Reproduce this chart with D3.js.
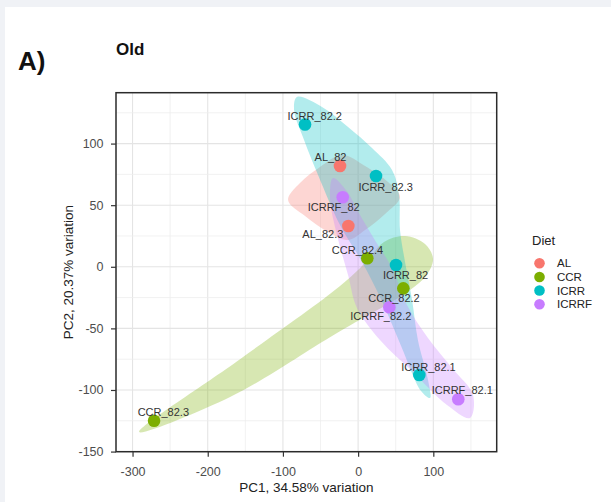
<!DOCTYPE html>
<html><head><meta charset="utf-8">
<script src="https://cdn.jsdelivr.net/npm/d3@7"></script>
<style>
html,body{margin:0;padding:0;background:#f0f2f6;}
svg{display:block;font-family:"Liberation Sans",Arial,Helvetica,sans-serif;}
</style></head><body>
<svg id="chart" width="611" height="502"></svg>
<script>
// ---------- data ----------
const diets = ["AL", "CCR", "ICRR", "ICRRF"];
const dietColors = ["#F8766D", "#7CAE00", "#00BFC4", "#C77CFF"];
const sampleNames = ["AL_82", "AL_82.3", "CCR_82.4", "CCR_82.2", "CCR_82.3",
  "ICRR_82.2", "ICRR_82.3", "ICRR_82", "ICRR_82.1", "ICRRF_82", "ICRRF_82.2", "ICRRF_82.1"];
const sampleDiet = ["AL", "AL", "CCR", "CCR", "CCR", "ICRR", "ICRR", "ICRR", "ICRR", "ICRRF", "ICRRF", "ICRRF"];
const pc1 = [-24.1, -13.0, 12.2, 60.1, -271.4, -70.6, 23.8, 50.4, 81.4, -20.5, 41.5, 133.2];
const pc2 = [81.8, 33.1, 6.9, -17.5, -125.0, 115.5, 73.7, 1.5, -87.8, 56.4, -32.9, -107.5];
const xTicks = [-300, -200, -100, 0, 100];
const yTicks = [-150, -100, -50, 0, 50, 100];
// encircle outlines per diet (PC1, PC2 units)
const envAL = [[-93.2,54.2],[-77.3,68.0],[-50.7,81.0],[-21.4,90.7],[9.2,81.8],[39.8,68.8],[55.7,56.7],[35.8,42.9],[9.2,29.9],[-13.4,21.8],[-40.0,28.2],[-70.6,41.2]];
const envCCR = [[-291.2,-134.1],[-157.1,-75.0],[-24.1,-15.6],[10.5,3.9],[34.4,20.1],[62.4,24.9],[89.0,18.4],[99.6,6.3],[90.3,-7.5],[69.0,-18.8],[42.4,-29.4],[6.5,-41.6],[-37.4,-57.1],[-170.3,-105.7]];
const envICRR = [[-81.3,137.8],[-48.0,129.7],[-13.4,113.5],[18.5,96.4],[45.1,78.5],[54.4,58.3],[55.7,29.9],[62.4,3.9],[71.8,-27.0],[79.5,-59.4],[93.0,-92.0],[95.6,-106.5],[84.0,-101.0],[57.0,-64.0],[31.0,-27.0],[5.2,3.9],[-24.1,33.9],[-53.3,74.5],[-71.9,102.9],[-85.2,127.2]];
const envICRRF = [[-33.4,72.1],[-16.1,62.3],[2.5,42.0],[23.8,20.1],[45.1,-1.0],[65.0,-31.0],[92.9,-57.8],[124.9,-82.2],[152.8,-104.1],[148.8,-122.7],[118.2,-112.2],[73.0,-85.4],[29.1,-59.4],[-1.5,-33.4],[-13.4,-6.7],[-28.1,25.8],[-37.4,55.8]];
const envelopes = [envAL, envCCR, envICRR, envICRRF];

// label placement (pixel nudges from each point, like ggrepel)
const labelNudge = [[-9.5,-9],[-25.5,8],[-9.8,-8.3],[-9.3,10],[9.3,-8.3],[9.7,-8],[9.6,10.7],[9.5,10],[9.2,-7.7],[-9,9.4],[-8.5,8.7],[4,-9.3]];

// ---------- layout ----------
const svg = d3.select("#chart");
svg.append("rect").attr("x", 5).attr("y", 7).attr("width", 606).attr("height", 495).attr("fill", "#ffffff");

const L = 116, R = 496.7, T = 92.7, B = 451.7;
const x = d3.scaleLinear().domain([-322, 184.3]).range([L, R]);
const y = d3.scaleLinear().domain([-150.1, 141.3]).range([B, T]);
const color = d3.scaleOrdinal().domain(diets).range(dietColors);

// grid
const g = svg.append("g");
const xMinor = d3.range(-300, 151, 50);
const yMinor = d3.range(-150, 126, 25);
g.selectAll(".gx").data(xMinor).join("line")
  .attr("x1", d => x(d)).attr("x2", d => x(d)).attr("y1", T).attr("y2", B)
  .attr("stroke", d => d % 100 === 0 ? "#e4e4e4" : "#eeeeee")
  .attr("stroke-width", d => d % 100 === 0 ? 1.1 : 0.8);
g.selectAll(".gy").data(yMinor).join("line")
  .attr("y1", d => y(d)).attr("y2", d => y(d)).attr("x1", L).attr("x2", R)
  .attr("stroke", d => d % 50 === 0 ? "#e4e4e4" : "#eeeeee")
  .attr("stroke-width", d => d % 50 === 0 ? 1.1 : 0.8);

// envelopes
svg.append("clipPath").attr("id", "pclip").append("rect")
  .attr("x", L).attr("y", T).attr("width", R - L).attr("height", B - T);
const line = d3.line().x(d => x(d[0])).y(d => y(d[1])).curve(d3.curveCatmullRomClosed.alpha(0.5));
svg.append("g").attr("clip-path", "url(#pclip)")
  .selectAll("path").data(envelopes).join("path")
  .attr("d", d => line(d))
  .attr("fill", (d, i) => dietColors[i])
  .attr("fill-opacity", 0.3)
  .attr("stroke", "none");

// points
const idx = d3.range(sampleNames.length);
svg.append("g").selectAll("circle").data(idx).join("circle")
  .attr("cx", i => x(pc1[i])).attr("cy", i => y(pc2[i])).attr("r", 6.3)
  .attr("fill", i => color(sampleDiet[i]));

// labels
svg.append("g").selectAll("text").data(idx).join("text")
  .attr("x", i => x(pc1[i]) + labelNudge[i][0])
  .attr("y", i => y(pc2[i]) + labelNudge[i][1])
  .attr("dy", "0.36em")
  .attr("text-anchor", "middle")
  .attr("font-size", 11).attr("fill", "#333333")
  .text(i => sampleNames[i]);

// panel border
svg.append("rect").attr("x", L).attr("y", T).attr("width", R - L).attr("height", B - T)
  .attr("fill", "none").attr("stroke", "#2b2b2b").attr("stroke-width", 1.5);

// axes
const xAxis = svg.append("g").attr("transform", `translate(0,${B})`)
  .call(d3.axisBottom(x).tickValues(xTicks).tickSize(5).tickPadding(10).tickFormat(d3.format("d")));
const yAxis = svg.append("g").attr("transform", `translate(${L},0)`)
  .call(d3.axisLeft(y).tickValues(yTicks).tickSize(5).tickPadding(7.5).tickFormat(d3.format("d")));
[xAxis, yAxis].forEach(a => {
  a.select(".domain").remove();
  a.selectAll(".tick line").attr("stroke", "#333333").attr("stroke-width", 1.2);
  a.selectAll(".tick text").attr("fill", "#4d4d4d").attr("font-size", 12.5)
    .attr("font-family", "Liberation Sans, Arial, sans-serif");
});
xAxis.selectAll(".tick text").text(d => String(d));
yAxis.selectAll(".tick text").text(d => String(d));

// axis titles
svg.append("text").attr("x", (L + R) / 2).attr("y", 492).attr("text-anchor", "middle")
  .attr("font-size", 13.5).attr("fill", "#222").text("PC1, 34.58% variation");
svg.append("text").attr("transform", `translate(72.5,${(T + B) / 2}) rotate(-90)`)
  .attr("text-anchor", "middle").attr("font-size", 13.5).attr("fill", "#222")
  .text("PC2, 20.37% variation");

// titles
svg.append("text").attr("x", 18).attr("y", 70).attr("font-size", 26).attr("font-weight", "bold")
  .attr("fill", "#111").text("A)");
svg.append("text").attr("x", 116).attr("y", 55).attr("font-size", 17).attr("font-weight", "bold")
  .attr("fill", "#111").text("Old");

// legend
const lg = svg.append("g").attr("transform", "translate(532,0)");
lg.append("text").attr("x", 0).attr("y", 245).attr("font-size", 13).attr("fill", "#222").text("Diet");
const ly = d3.scaleBand().domain(diets).range([256.5, 311]);
lg.selectAll("circle").data(diets).join("circle")
  .attr("cx", 7.5).attr("cy", d => ly(d) + ly.bandwidth() / 2).attr("r", 5.3)
  .attr("fill", d => color(d));
lg.selectAll(".lt").data(diets).join("text")
  .attr("x", 25).attr("y", d => ly(d) + ly.bandwidth() / 2).attr("dy", "0.36em")
  .attr("font-size", 11.5).attr("fill", "#222").text(d => d);
</script>
</body></html>
